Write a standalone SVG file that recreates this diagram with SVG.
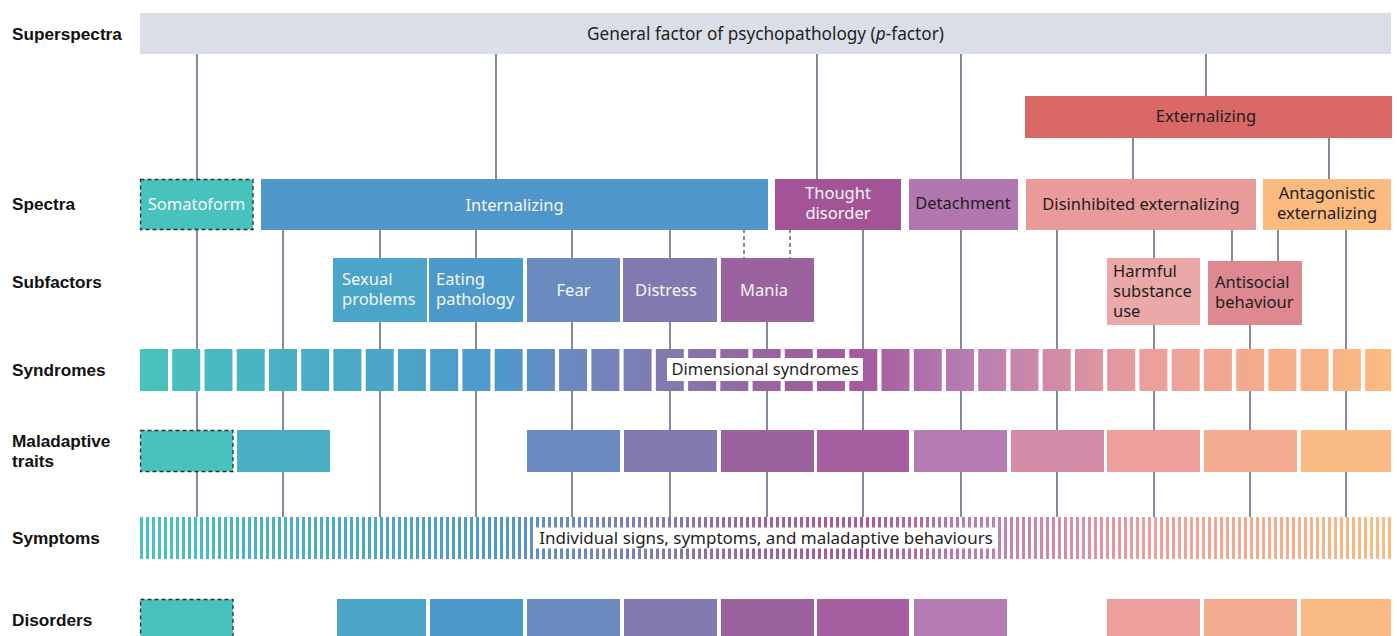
<svg xmlns="http://www.w3.org/2000/svg" width="1397" height="636" viewBox="0 0 1397 636">
<style>
.lbl{font-family:"Liberation Sans",Arial,sans-serif;font-weight:bold;font-size:17.2px;fill:#111}
.t{font-family:"Noto Sans","Open Sans",sans-serif;font-size:16.5px}
.w{fill:#F7F7F7}
.d{fill:#1E1E1E}
.c{stroke:#4F5B74;stroke-width:1.4;fill:none}
.dash{stroke-dasharray:4,3}
.dashbox{stroke:#2E2E2E;stroke-width:1.3;stroke-dasharray:4,3}
</style>
<defs>
<linearGradient id="spec" gradientUnits="userSpaceOnUse" x1="140" y1="0" x2="1391" y2="0">
<stop offset="0" stop-color="#48C3BC"/>
<stop offset="0.128" stop-color="#4AAEC5"/>
<stop offset="0.288" stop-color="#4E99CB"/>
<stop offset="0.336" stop-color="#6A8AC0"/>
<stop offset="0.424" stop-color="#8379B0"/>
<stop offset="0.5" stop-color="#9A63A0"/>
<stop offset="0.576" stop-color="#A55A9C"/>
<stop offset="0.656" stop-color="#B47CB2"/>
<stop offset="0.735" stop-color="#D38BA7"/>
<stop offset="0.808" stop-color="#EC9F9D"/>
<stop offset="0.888" stop-color="#F2AB8E"/>
<stop offset="1" stop-color="#FBBB7F"/>
</linearGradient>
<pattern id="stripePat" patternUnits="userSpaceOnUse" x="140" y="0" width="6" height="50">
<rect x="0" y="0" width="3" height="50" fill="#fff"/>
</pattern>
<mask id="stripes" maskUnits="userSpaceOnUse" x="0" y="0" width="1397" height="636">
<rect x="140" y="517" width="1251" height="42" fill="url(#stripePat)"/>
</mask>
</defs>

<g id="row-labels">
<text class="lbl" x="12" y="40">Superspectra</text>
<text class="lbl" x="12" y="210">Spectra</text>
<text class="lbl" x="12" y="288">Subfactors</text>
<text class="lbl" x="12" y="376">Syndromes</text>
<text class="lbl"><tspan x="12" y="446.5">Maladaptive</tspan><tspan x="12" y="466.5">traits</tspan></text>
<text class="lbl" x="12" y="544">Symptoms</text>
<text class="lbl" x="12" y="626">Disorders</text>
</g>

<g id="connectors">
<line class="c" x1="197" y1="54" x2="197" y2="517"/>
<line class="c" x1="496" y1="54" x2="496" y2="179"/>
<line class="c" x1="817" y1="54" x2="817" y2="179"/>
<line class="c" x1="961" y1="54" x2="961" y2="517"/>
<line class="c" x1="1206" y1="54" x2="1206" y2="96"/>
<line class="c" x1="1133" y1="138" x2="1133" y2="179"/>
<line class="c" x1="1329" y1="138" x2="1329" y2="179"/>
<line class="c" x1="283" y1="229" x2="283" y2="517"/>
<line class="c" x1="380" y1="229" x2="380" y2="517"/>
<line class="c" x1="476" y1="229" x2="476" y2="517"/>
<line class="c" x1="572" y1="229" x2="572" y2="517"/>
<line class="c" x1="670" y1="229" x2="670" y2="517"/>
<line class="c dash" x1="744" y1="229" x2="744" y2="258"/>
<line class="c dash" x1="790" y1="229" x2="790" y2="258"/>
<line class="c" x1="767" y1="322" x2="767" y2="517"/>
<line class="c" x1="863" y1="229" x2="863" y2="517"/>
<line class="c" x1="1057" y1="229" x2="1057" y2="517"/>
<line class="c" x1="1154" y1="229" x2="1154" y2="517"/>
<line class="c" x1="1232" y1="229" x2="1232" y2="261"/>
<line class="c" x1="1278" y1="229" x2="1278" y2="261"/>
<line class="c" x1="1250" y1="325" x2="1250" y2="517"/>
<line class="c" x1="1346" y1="229" x2="1346" y2="517"/>
</g>

<g id="p-factor">
<rect x="140" y="13" width="1251" height="41" fill="#DADEE7"/>
<text class="t d" x="765.5" y="40" text-anchor="middle" style="font-size:17.2px">General factor of psychopathology (<tspan font-style="italic">p</tspan>-factor)</text>
</g>
<g id="externalizing">
<rect x="1025" y="96" width="367" height="42" fill="#DA6867"/>
<text class="t d" x="1206" y="122" text-anchor="middle">Externalizing</text>
</g>

<g id="somatoform">
<rect class="dashbox" x="140.5" y="179.5" width="112.5" height="50" fill="#48C2BC"/>
<text class="t w" x="196.5" y="210" text-anchor="middle">Somatoform</text>
</g>
<g id="internalizing">
<rect x="261" y="179" width="507" height="51" fill="#4F96CA"/>
<text class="t w" x="514.5" y="211" text-anchor="middle">Internalizing</text>
</g>
<g id="thought-disorder">
<rect x="775" y="179" width="126" height="51" fill="#A25497"/>
<text class="t w" text-anchor="middle"><tspan x="838" y="199">Thought</tspan><tspan x="838" y="219">disorder</tspan></text>
</g>
<g id="detachment">
<rect x="909" y="179" width="109" height="51" fill="#B277B1"/>
<text class="t d" x="963" y="209" text-anchor="middle">Detachment</text>
</g>
<g id="disinhibited-externalizing">
<rect x="1026" y="179" width="230" height="51" fill="#E99A9B"/>
<text class="t d" x="1141" y="210" text-anchor="middle">Disinhibited externalizing</text>
</g>
<g id="antagonistic-externalizing">
<rect x="1263" y="179" width="128" height="51" fill="#FBBA7E"/>
<text class="t d" text-anchor="middle"><tspan x="1327" y="199">Antagonistic</tspan><tspan x="1327" y="219">externalizing</tspan></text>
</g>

<g id="sexual-problems">
<rect x="333" y="258" width="94" height="64" fill="#4BA5C8"/>
<text class="t w"><tspan x="342" y="285">Sexual</tspan><tspan x="342" y="305">problems</tspan></text>
</g>
<g id="eating-pathology">
<rect x="429" y="258" width="94" height="64" fill="#4E99CB"/>
<text class="t w"><tspan x="436" y="285">Eating</tspan><tspan x="436" y="305">pathology</tspan></text>
</g>
<g id="fear">
<rect x="527" y="258" width="93" height="64" fill="#6A8AC0"/>
<text class="t w" x="573.5" y="296" text-anchor="middle">Fear</text>
</g>
<g id="distress">
<rect x="623" y="258" width="94" height="64" fill="#8379B0"/>
<text class="t w" x="666" y="296" text-anchor="middle">Distress</text>
</g>
<g id="mania">
<rect x="721" y="258" width="93" height="64" fill="#9A63A0"/>
<text class="t w" x="764" y="296" text-anchor="middle">Mania</text>
</g>
<g id="harmful-substance-use">
<rect x="1107" y="258" width="93" height="67" fill="#EAA8A8"/>
<text class="t d"><tspan x="1113" y="277">Harmful</tspan><tspan x="1113" y="297">substance</tspan><tspan x="1113" y="317">use</tspan></text>
</g>
<g id="antisocial-behaviour">
<rect x="1208" y="261" width="94" height="64" fill="#DE8891"/>
<text class="t d"><tspan x="1215" y="288">Antisocial</tspan><tspan x="1215" y="308">behaviour</tspan></text>
</g>

<g id="syndromes" fill="url(#spec)">
<rect x="140.0" y="349" width="28" height="42"/>
<rect x="172.2" y="349" width="28" height="42"/>
<rect x="204.5" y="349" width="28" height="42"/>
<rect x="236.7" y="349" width="28" height="42"/>
<rect x="269.0" y="349" width="28" height="42"/>
<rect x="301.2" y="349" width="28" height="42"/>
<rect x="333.4" y="349" width="28" height="42"/>
<rect x="365.7" y="349" width="28" height="42"/>
<rect x="397.9" y="349" width="28" height="42"/>
<rect x="430.2" y="349" width="28" height="42"/>
<rect x="462.4" y="349" width="28" height="42"/>
<rect x="494.6" y="349" width="28" height="42"/>
<rect x="526.9" y="349" width="28" height="42"/>
<rect x="559.1" y="349" width="28" height="42"/>
<rect x="591.4" y="349" width="28" height="42"/>
<rect x="623.6" y="349" width="28" height="42"/>
<rect x="655.8" y="349" width="28" height="42"/>
<rect x="688.1" y="349" width="28" height="42"/>
<rect x="720.3" y="349" width="28" height="42"/>
<rect x="752.6" y="349" width="28" height="42"/>
<rect x="784.8" y="349" width="28" height="42"/>
<rect x="817.0" y="349" width="28" height="42"/>
<rect x="849.3" y="349" width="28" height="42"/>
<rect x="881.5" y="349" width="28" height="42"/>
<rect x="913.8" y="349" width="28" height="42"/>
<rect x="946.0" y="349" width="28" height="42"/>
<rect x="978.2" y="349" width="28" height="42"/>
<rect x="1010.5" y="349" width="28" height="42"/>
<rect x="1042.7" y="349" width="28" height="42"/>
<rect x="1075.0" y="349" width="28" height="42"/>
<rect x="1107.2" y="349" width="28" height="42"/>
<rect x="1139.4" y="349" width="28" height="42"/>
<rect x="1171.7" y="349" width="28" height="42"/>
<rect x="1203.9" y="349" width="28" height="42"/>
<rect x="1236.2" y="349" width="28" height="42"/>
<rect x="1268.4" y="349" width="28" height="42"/>
<rect x="1300.6" y="349" width="28" height="42"/>
<rect x="1332.9" y="349" width="28" height="42"/>
<rect x="1365.1" y="349" width="26" height="42"/>
<rect x="667" y="358" width="196" height="23" fill="#fff"/>
<text class="t d" x="765" y="375" text-anchor="middle">Dimensional syndromes</text>
</g>

<g id="maladaptive-traits">
<rect class="dashbox" x="140.5" y="430.5" width="92.5" height="41" fill="#48C2BC"/>
<rect x="237" y="430" width="93" height="42" fill="#4BAFC3"/>
<rect x="527" y="430" width="93" height="42" fill="#6A8AC0"/>
<rect x="624" y="430" width="93" height="42" fill="#8379B0"/>
<rect x="721" y="430" width="93" height="42" fill="#9A63A0"/>
<rect x="817" y="430" width="92" height="42" fill="#A6609F"/>
<rect x="914" y="430" width="93" height="42" fill="#B47CB2"/>
<rect x="1011" y="430" width="93" height="42" fill="#D28CA7"/>
<rect x="1107" y="430" width="93" height="42" fill="#EC9F9D"/>
<rect x="1204" y="430" width="93" height="42" fill="#F2AB8E"/>
<rect x="1301" y="430" width="90" height="42" fill="#FABA83"/>
</g>

<g id="symptoms">
<rect x="140" y="517" width="1251" height="42" fill="url(#spec)" mask="url(#stripes)"/>
<rect x="536" y="527.5" width="461" height="21" fill="#fff"/>
<text class="t d" x="766" y="543.5" text-anchor="middle" style="font-size:17px">Individual signs, symptoms, and maladaptive behaviours</text>
</g>

<g id="disorders">
<rect class="dashbox" x="140.5" y="599.5" width="92.5" height="40" fill="#48C2BC"/>
<rect x="337" y="599" width="89" height="40" fill="#4BA5C8"/>
<rect x="430" y="599" width="93" height="40" fill="#4E99CB"/>
<rect x="527" y="599" width="93" height="40" fill="#6A8AC0"/>
<rect x="624" y="599" width="93" height="40" fill="#8379B0"/>
<rect x="721" y="599" width="93" height="40" fill="#9A63A0"/>
<rect x="817" y="599" width="92" height="40" fill="#A6609F"/>
<rect x="914" y="599" width="93" height="40" fill="#B47CB2"/>
<rect x="1107" y="599" width="93" height="40" fill="#EC9F9D"/>
<rect x="1204" y="599" width="93" height="40" fill="#F2AB8E"/>
<rect x="1301" y="599" width="90" height="40" fill="#FABA83"/>
</g>
</svg>
